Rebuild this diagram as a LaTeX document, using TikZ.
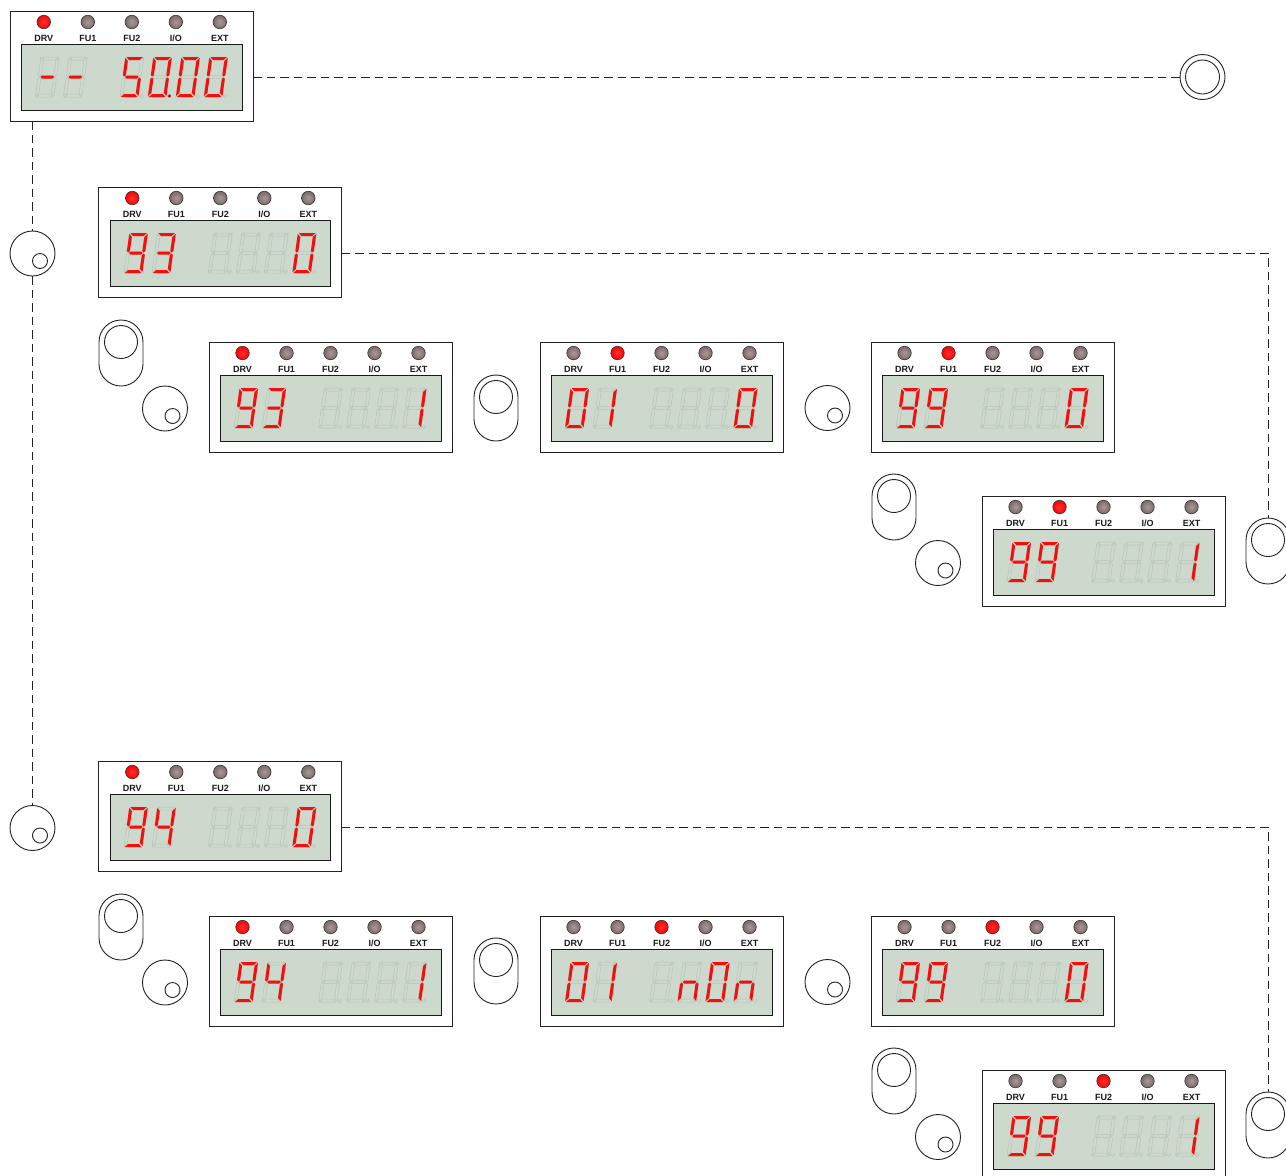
\documentclass[tikz,border=0pt]{standalone}
\usepackage{fontspec}
\setmainfont{Liberation Sans}

\definecolor{lcdgreen}{HTML}{CDD9CC}
\definecolor{ghostseg}{HTML}{B6C5B6}
\definecolor{litred}{HTML}{F80C0C}
\definecolor{ledgrey}{HTML}{7C6A69}
\definecolor{ledshine}{HTML}{A89A98}
\definecolor{inkline}{HTML}{222222}

\tikzset{
  panelbox/.style={draw=inkline,fill=white,line width=.9pt,minimum width=243pt,minimum height=110pt,inner sep=0pt,outer sep=0pt,anchor=north west},
  lcdbox/.style={draw=black!90,fill=lcdgreen,line width=1pt,minimum width=220.5pt,minimum height=66pt,inner sep=0pt,outer sep=0pt,anchor=north west},
  ledoff/.style={circle,draw=black!80,line width=.6pt,shading=radial,inner color=ledshine,outer color=ledgrey,minimum size=13.5pt,inner sep=0pt},
  ledon/.style={circle,draw=black!80,line width=.6pt,shading=radial,inner color=red!80!white,outer color=red,minimum size=13.5pt,inner sep=0pt},
  ledtext/.style={inner sep=0pt,font=\fontsize{9}{10}\selectfont\bfseries,text=black!90},
  ghost/.style={draw=ghostseg,line width=.5pt},
  litseg/.style={fill=litred},
  knobshape/.style={circle,draw=inkline,line width=.9pt,fill=white,minimum size=45pt,inner sep=0pt,outer sep=0pt},
  knobdot/.style={circle,draw=inkline,line width=.9pt,minimum size=15pt,inner sep=0pt,outer sep=0pt},
  capshape/.style={draw=inkline,line width=.9pt,fill=white,rounded corners=22pt,minimum width=44pt,minimum height=66pt,inner sep=0pt,outer sep=0pt},
  capdot/.style={circle,draw=inkline,line width=.9pt,minimum size=33pt,inner sep=0pt,outer sep=0pt},
  dashline/.style={draw=inkline,line width=.9pt,dash pattern=on 8.5pt off 5pt}
}

% segments, y going up
\expandafter\def\csname sega\endcsname{(1,40) -- (17.5,40) -- (14.5,37) -- (4,37) -- cycle}
\expandafter\def\csname segb\endcsname{(18.5,39) -- (15.5,36) -- (15.5,22) -- (17,20.5) -- (18.5,22) -- cycle}
\expandafter\def\csname segc\endcsname{(18.5,1) -- (15.5,4) -- (15.5,18) -- (17,19.5) -- (18.5,18) -- cycle}
\expandafter\def\csname segd\endcsname{(1,0) -- (17.5,0) -- (14.5,3) -- (4,3) -- cycle}
\expandafter\def\csname sege\endcsname{(0,1) -- (3,4) -- (3,18) -- (1.5,19.5) -- (0,18) -- cycle}
\expandafter\def\csname segf\endcsname{(0,39) -- (3,36) -- (3,22) -- (1.5,20.5) -- (0,22) -- cycle}
\expandafter\def\csname segg\endcsname{(2.5,20) -- (4,21.5) -- (14.5,21.5) -- (16,20) -- (14.5,18.5) -- (4,18.5) -- cycle}
\expandafter\def\csname segz\endcsname{}

% characters
\newcommand{\setdigit}[2]{\expandafter\def\csname dig#1\endcsname{#2}}
\setdigit{0}{a,b,c,d,e,f}
\setdigit{1}{b,c}
\setdigit{3}{a,b,c,d,g}
\setdigit{4}{b,c,f,g}
\setdigit{5}{a,c,d,f,g}
\setdigit{9}{a,b,c,d,f,g}
\setdigit{n}{c,e,g}
\setdigit{m}{g}
\setdigit{x}{z}

% name, top left corner, lit led, six characters, lit point
\newcommand{\lcdpanel}[5]{
  \begin{scope}[shift={(#2)}]
    \node[panelbox] (#1) at (0,0) {};
    \node[lcdbox] (#1lcd) at (11.5,33) {};
    \foreach \lab [count=\i] in {DRV,FU1,FU2,I/O,EXT} {
      \pgfmathsetmacro\lx{33.5+44*(\i-1)}
      \ifnum\i=#3
        \node[ledon] (#1led\i) at (\lx,11) {};
      \else
        \node[ledoff] (#1led\i) at (\lx,11) {};
      \fi
      \node[ledtext] (#1lab\i) at (\lx,27.2) {\lab};
    }
    \foreach \dg [count=\i] in {#4} {
      \pgfmathsetmacro\dx{{25,53,109.5,137.5,165.5,193.5}[\i-1]}
      \begin{scope}[shift={(\dx,86)},x=1pt,y=1pt,xslant=.14]
        \foreach \s in {a,b,c,d,e,f,g}
          \path[ghost] \csname seg\s\endcsname;
        \ifnum\i>2
          \path[ghost] (21.5,1) circle (1.7);
          \ifnum\i=#5
            \fill[litred!70!black] (21.5,1) circle (1.7);
          \fi
        \fi
        \edef\seglist{\csname dig\dg\endcsname}
        \foreach \s in \seglist
          \path[litseg] \csname seg\s\endcsname;
      \end{scope}
    }
  \end{scope}
}

\newcommand{\dialknob}[2]{
  \node[knobshape] (#1) at (#2) {};
  \node[knobdot] (#1dot) at ([xshift=7.5pt,yshift=-7.5pt]#1.center) {};
}

% name, centre of top arc
\newcommand{\keycap}[2]{
  \node[capshape,anchor=north] (#1) at ([yshift=22pt]#2) {};
  \node[capdot] (#1dot) at (#2) {};
}

\begin{document}
\begin{tikzpicture}[x=1pt,y=-1pt]
  \useasboundingbox (0,0) rectangle (1286,1176);

  % Panels
  \lcdpanel{pmain}{10.3,11}{1}{m,m,5,0,0,0}{4}
  \lcdpanel{pa}{98.8,187}{1}{9,3,x,x,x,0}{0}
  \lcdpanel{pb}{209,342}{1}{9,3,x,x,x,1}{0}
  \lcdpanel{pc}{540,342}{2}{0,1,x,x,x,0}{0}
  \lcdpanel{pd}{871,342}{2}{9,9,x,x,x,0}{0}
  \lcdpanel{pe}{982,496}{2}{9,9,x,x,x,1}{0}
  \lcdpanel{pf}{98.8,761}{1}{9,4,x,x,x,0}{0}
  \lcdpanel{pg}{209,916}{1}{9,4,x,x,x,1}{0}
  \lcdpanel{ph}{540,916}{3}{0,1,x,n,0,n}{0}
  \lcdpanel{pi}{871,916}{3}{9,9,x,x,x,0}{0}
  \lcdpanel{pj}{982,1070}{3}{9,9,x,x,x,1}{0}

  % Knobs
  \dialknob{ka}{32.5,253.5}
  \dialknob{kb}{32.5,828}
  \dialknob{kc}{165,408.5}
  \dialknob{kd}{827.5,408}
  \dialknob{ke}{938,563}
  \dialknob{kf}{165,982.5}
  \dialknob{kg}{827.5,982}
  \dialknob{kh}{938,1137}

  % Keys
  \keycap{ca}{121,342}
  \keycap{cb}{496,397}
  \keycap{cc}{894,496}
  \keycap{cd}{1268,540}
  \keycap{ce}{121,916}
  \keycap{cf}{496,960}
  \keycap{cg}{894,1070}
  \keycap{ch}{1268,1114}

  % Ring
  \node[circle,draw=inkline,line width=.9pt,minimum size=45pt,inner sep=0pt,outer sep=0pt] (ring) at (1202.5,77) {};
  \node[circle,draw=inkline,line width=.9pt,minimum size=34pt,inner sep=0pt,outer sep=0pt] (ringin) at (ring.center) {};

  % Dashed lines
  \draw[dashline] (pmain.east |- pmainlcd.center) -- (ring.west);
  \draw[dashline] (ka |- pmain.south) -- (ka.north);
  \draw[dashline] (ka.south) -- (kb.north);
  \draw[dashline] (pa.east |- palcd.center) -| (cd.north);
  \draw[dashline] (pf.east |- pflcd.center) -| (ch.north);
\end{tikzpicture}
\end{document}
